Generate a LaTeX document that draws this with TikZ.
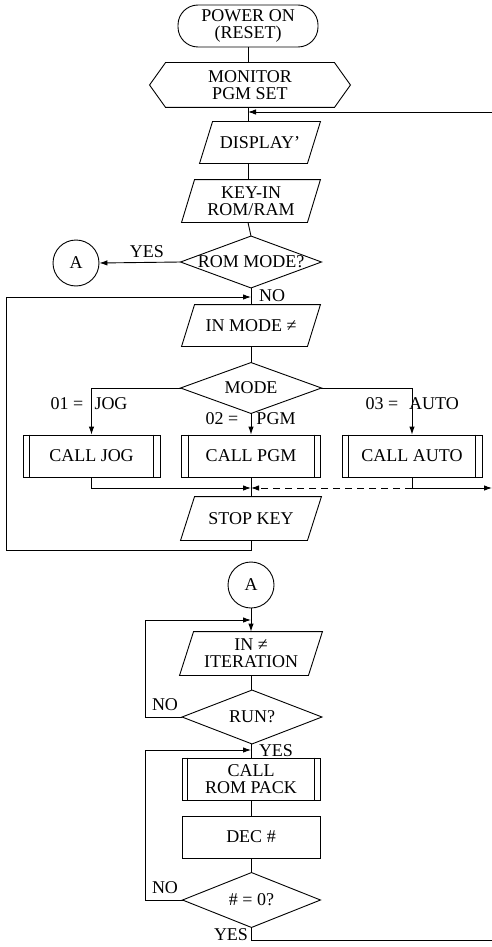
\documentclass[tikz,border=0pt]{standalone}
\usepackage{fontspec}
\setmainfont{Liberation Serif}
\usetikzlibrary{arrows.meta}
\newcommand\mkpara[2]{\draw ([xshift=#2]#1.north west) -- (#1.north east) -- ([xshift=-#2]#1.south east) -- (#1.south west) -- cycle;}
\newcommand\mkdia[1]{\draw (#1.west) -- (#1.north) -- (#1.east) -- (#1.south) -- cycle;}
\newcommand\mkhex[2]{\draw (#1.west) -- ([xshift=#2]#1.north west) -- ([xshift=-#2]#1.north east) -- (#1.east) -- ([xshift=-#2]#1.south east) -- ([xshift=#2]#1.south west) -- cycle;}
\newcommand\mksub[2]{\draw ([xshift=#2]#1.north west) -- ([xshift=#2]#1.south west); \draw ([xshift=-#2]#1.north east) -- ([xshift=-#2]#1.south east);}
\begin{document}
\begin{tikzpicture}[x=1pt,y=-1pt,line width=0.9pt,
  nd/.style={font=\fontsize{18}{17}\selectfont, inner sep=0pt, align=center},
  lbl/.style={font=\fontsize{18}{17}\selectfont, inner sep=0pt},
  arr/.style={-{Latex[length=8pt,width=5.5pt]}}]
\useasboundingbox (0,0) rectangle (492,947);
% --- upper chart
\node[nd, draw, rounded corners=20, minimum width=140, minimum height=42] (pwr) at (248,26) {POWER ON\\(RESET)};
\node[nd, minimum width=200, minimum height=44] (mon) at (250,85) {MONITOR\\PGM SET};
\mkhex{mon}{16}
\node[nd, minimum width=120, minimum height=41] (disp) at (260,142.5) {DISPLAY’};
\mkpara{disp}{13}
\node[nd, minimum width=138, minimum height=42] (key) at (251,201) {KEY-IN\\ROM/RAM};
\mkpara{key}{13}
\node[nd, minimum width=140, minimum height=51] (rom) at (251,262) {ROM MODE?};
\mkdia{rom}
\node[nd, draw, circle, minimum size=46] (A1) at (76,263) {A};
\node[nd, minimum width=138, minimum height=41] (inm) at (251,325.5) {IN MODE ≠};
\mkpara{inm}{13}
\node[nd, minimum width=140, minimum height=50] (mode) at (251,388) {MODE};
\mkdia{mode}
\node[nd, draw, minimum width=137, minimum height=42] (jog) at (91.5,456) {CALL JOG};
\mksub{jog}{7}
\node[nd, draw, minimum width=139, minimum height=42] (pgm) at (251,456) {CALL PGM};
\mksub{pgm}{7}
\node[nd, draw, minimum width=140, minimum height=42] (auto) at (412,456) {CALL AUTO};
\mksub{auto}{7}
\node[nd, minimum width=140, minimum height=43] (stop) at (251,518.5) {STOP KEY};
\mkpara{stop}{14}
% connectors upper
\draw (pwr.south) -- (pwr.south |- mon.north);
\draw (pwr.south |- mon.south) -- (pwr.south |- disp.north);
\coordinate (fbR) at (492,112);
\draw[arr] (fbR) -- (fbR -| pwr.south);
\draw (pwr.south |- disp.south) -- (pwr.south |- key.north);
\draw (pwr.south |- key.south) -- (rom.north);
\draw[arr] (rom.west) -- (A1.east);
\node[lbl] (yes1) at (147,252) {YES};
\draw (rom.south) -- (inm.north);
\node[lbl] (no1) at (272,296) {NO};
\draw (inm.south) -- (mode.north);
\draw[arr] (mode.west) -| (jog.north);
\draw[arr] (mode.east) -| (auto.north);
\draw[arr] (mode.south) -- (pgm.north);
\node[lbl] (l01) at (67,404) {01 =};
\node[lbl] (ljog) at (111,404) {JOG};
\node[lbl] (l02) at (222,419) {02 =};
\node[lbl] (lpgm) at (276,419) {PGM};
\node[lbl] (l03) at (382,404) {03 =};
\node[lbl] (lauto) at (434,404) {AUTO};
\coordinate (mj) at (251,488);
\draw[arr] (jog.south) |- (mj);
\draw (pgm.south) -- (stop.north);
\draw (auto.south) -- (auto.south |- mj);
\draw[arr, dashed, dash pattern=on 7pt off 5pt] (auto.south |- mj) -- (mj);
\coordinate (midR) at (492,488);
\draw[arr] (auto.south |- mj) -- (midR);
\coordinate (lb) at (6,550);
\coordinate (lt) at (6,297);
\draw[arr] (stop.south) |- (lb) -- (lt) -- (lt -| rom.south);
% --- lower chart
\node[nd, draw, circle, minimum size=46] (A2) at (251,585) {A};
\node[nd, minimum width=142, minimum height=43] (iter) at (251,653.5) {IN ≠\\ITERATION};
\mkpara{iter}{14}
\node[nd, minimum width=139, minimum height=53] (run) at (252,717) {RUN?};
\mkdia{run}
\node[nd, draw, minimum width=138, minimum height=42] (rpk) at (251,779) {CALL\\ROM PACK};
\mksub{rpk}{6}
\node[nd, draw, minimum width=138, minimum height=42] (dec) at (251,837) {DEC \#};
\node[nd, minimum width=137, minimum height=54] (zero) at (251.5,900) {\# = 0?};
\mkdia{zero}
\draw[arr] (A2.south) -- (A2.south |- iter.north);
\draw (A2.south |- iter.south) -- (A2.south |- run.north);
\coordinate (l2t) at (145,620);
\draw[arr] (run.west) -| (l2t) -- (l2t -| A2.south);
\node[lbl] (no2) at (165,705) {NO};
\draw (A2.south |- run.south) -- (A2.south |- rpk.north);
\node[lbl] (yes2) at (276,751) {YES};
\coordinate (l3t) at (145,750);
\draw[arr] (zero.west) -| (l3t) -- (l3t -| A2.south);
\node[lbl] (no3) at (165,888) {NO};
\draw (rpk.south) -- (dec.north);
\draw (dec.south) -- (dec.south |- zero.north);
\coordinate (endR) at (492,940);
\draw (zero.south) |- (endR);
\node[lbl] (yes3) at (231,935) {YES};
\end{tikzpicture}
\end{document}
